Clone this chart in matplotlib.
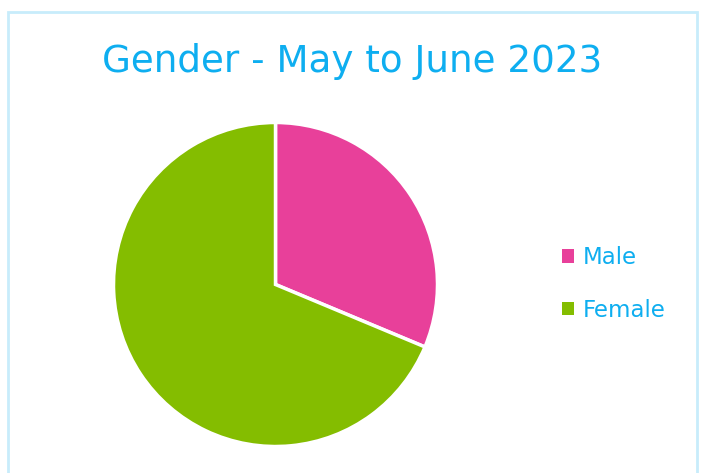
import matplotlib.pyplot as plt
from matplotlib.patches import Rectangle

labels = ['Male', 'Female']
values = [31.3, 68.7]
colors = ['#E8409A', '#84BD00']

W, H = 702, 473
fig = plt.figure(figsize=(W / 100, H / 100), dpi=100)
fig.patch.set_facecolor('white')

# light blue frame
fig.patches.append(Rectangle((7.5 / W, -0.1), (697 - 7.5) / W, 1.1 - 12 / H,
                             transform=fig.transFigure, fill=False,
                             edgecolor='#C8ECFB', linewidth=2))

fig.text(352 / W, 1 - 62 / H, 'Gender - May to June 2023', ha='center', va='center',
         fontsize=26.8, color='#0EAEF0', family='DejaVu Sans')

r = 162
cx, cy = 275.5, H - 284.5
ax = fig.add_axes([(cx - r) / W, (cy - r) / H, 2 * r / W, 2 * r / H])
wedges, _ = ax.pie(values, colors=colors, startangle=90, counterclock=False,
                   wedgeprops=dict(edgecolor='white', linewidth=2.5))
ax.set_xlim(-1, 1)
ax.set_ylim(-1, 1)
ax.set_aspect('equal')
ax.axis('off')

leg = fig.legend(wedges, labels, loc='center left', bbox_to_anchor=(541 / W, 1 - 284 / H),
                 frameon=False, prop={'family': 'DejaVu Sans', 'size': 16.5},
                 handlelength=0.52, handleheight=0.52, handletextpad=0.42, labelspacing=1.3)
for t in leg.get_texts():
    t.set_color('#0EAEF0')
for h in leg.legend_handles:
    h.set_edgecolor('none')

fig.savefig('out.png', dpi=100)
